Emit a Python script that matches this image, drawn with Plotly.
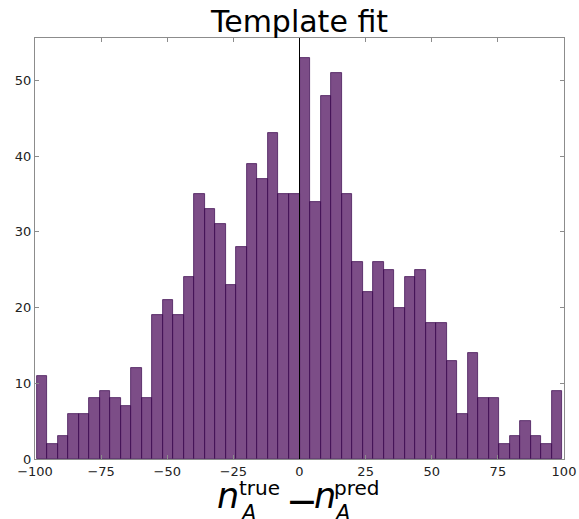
import plotly.graph_objects as go

# Histogram data (50 equal-width bins)
bin_start = -99.3
bin_width = 3.972
counts = [11, 2, 3, 6, 6, 8, 9, 8, 7, 12,
          8, 19, 21, 19, 24, 35, 33, 31, 23, 28,
          39, 37, 43, 35, 35, 53, 34, 48, 51, 35,
          26, 22, 26, 25, 20, 24, 25, 18, 18, 13,
          6, 14, 8, 8, 2, 3, 5, 3, 2, 9]
x_ticks = [-100, -75, -50, -25, 0, 25, 50, 75, 100]
x_tick_labels = ["\u2212100", "\u221275", "\u221250", "\u221225", "0", "25", "50", "75", "100"]
y_ticks = [0, 10, 20, 30, 40, 50]

centers = [bin_start + bin_width * (i + 0.5) for i in range(len(counts))]

W, H = 579, 519
L, R, T, B = 35, 15, 38, 60
pw, ph = W - L - R, H - T - B

fig = go.Figure()
fig.add_trace(go.Bar(
    x=centers, y=counts, width=bin_width,
    marker=dict(color="rgba(68,1,84,0.7)", line=dict(color="rgba(60,10,80,0.9)", width=0.8)),
    showlegend=False,
))

fig.add_shape(type="line", xref="x", yref="paper", x0=0, x1=0, y0=0, y1=1,
              line=dict(color="black", width=1), layer="above")

frame = "#8c8c8c"
axis_common = dict(showline=True, linecolor=frame, linewidth=1.2, mirror="ticks",
                   ticks="inside", ticklen=4, tickcolor=frame, showgrid=False,
                   zeroline=False, automargin=False,
                   tickfont=dict(family="DejaVu Sans", size=13, color="#222"))
fig.update_xaxes(range=[-100, 100], tickvals=x_ticks, ticktext=x_tick_labels, **axis_common)
fig.update_yaxes(range=[0, 55.6], tickvals=y_ticks, **axis_common)

def px(xp):
    return (xp - L) / pw

ann = []
def add(text, xl, yc, size):
    ann.append(dict(text=text, x=px(xl), xref="paper", xanchor="left",
                    y=0, yref="paper", yanchor="middle", yshift=-(yc - (T + ph)),
                    showarrow=False, borderpad=0,
                    font=dict(family="DejaVu Sans", size=size, color="black")))

add("<i>n</i>", 216, 496, 35)
add("true", 238, 488, 20)
add("<i>A</i>", 239, 513, 21)
add("\u2212", 285, 501, 38)
add("<i>n</i>", 313, 496, 35)
add("pred", 333, 488, 20)
add("<i>A</i>", 333, 513, 21)

fig.update_layout(
    width=W, height=H,
    margin=dict(l=L, r=R, t=T, b=B),
    plot_bgcolor="white", paper_bgcolor="white",
    bargap=0,
    title=dict(text="Template fit", x=(L + pw / 2) / W, xanchor="center",
               y=1 - 21 / H, yanchor="middle",
               font=dict(family="DejaVu Sans", size=30, color="black")),
    annotations=ann,
)

fig.write_html("out.html")
